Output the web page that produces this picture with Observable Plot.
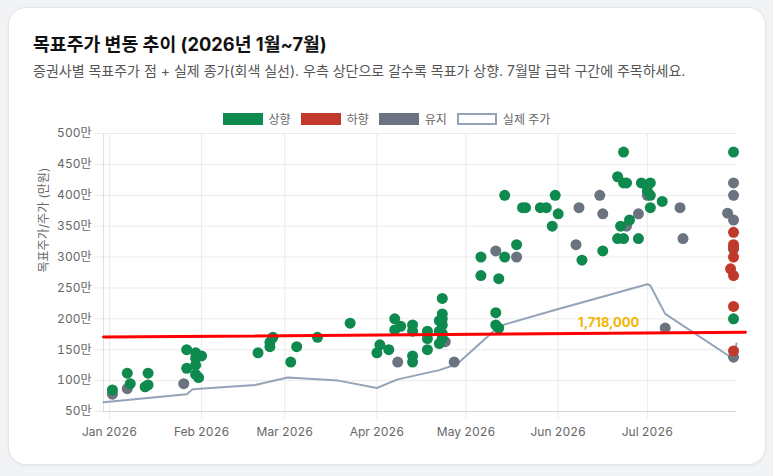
<!DOCTYPE html>
<html><head><meta charset="utf-8">
<script src="https://cdn.jsdelivr.net/npm/d3@7"></script>
<script src="https://cdn.jsdelivr.net/npm/@observablehq/plot@0.6"></script>
<style>
html,body{margin:0;padding:0;background:#f1f3f5;width:773px;height:476px;overflow:hidden;font-family:Inter,"Noto Sans CJK KR",sans-serif;}
#card{position:absolute;left:8px;top:7px;width:756px;height:456px;background:#fff;border:1px solid #e2e5e9;border-radius:18px;box-shadow:0 1px 3px rgba(0,0,0,0.05);}
#title{position:absolute;left:33px;top:30px;font-size:18.3px;font-weight:700;color:#111;white-space:nowrap;}
#subtitle{position:absolute;left:33px;top:60px;font-size:14px;color:#555;white-space:nowrap;}
#legend{position:absolute;left:0;top:110px;width:773px;display:flex;justify-content:center;align-items:center;font-size:12px;color:#666;}
.li{display:flex;align-items:center;margin:0 5px;}
.sw{width:40px;height:12px;margin-right:6px;box-sizing:border-box;}
#chart{position:absolute;left:0;top:105px;}
</style></head>
<body>
<div id="card"></div>
<div id="title">목표주가 변동 추이 (2026년 1월~7월)</div>
<div id="subtitle">증권사별 목표주가 점 + 실제 종가(회색 실선). 우측 상단으로 갈수록 목표가 상향. 7월말 급락 구간에 주목하세요.</div>
<div id="legend"></div>
<div id="chart"></div>
<script>
// ---- data (values in 만원) ----
const categories = ["상향", "하향", "유지"];
const categoryColors = ["#0f8a4f", "#c0392b", "#6b7280"];
const priceLabel = "실제 주가";

const upPoints = [
  ["01-02",85],["01-07",112],["01-08",95],["01-13",90],["01-14",93],["01-14",112],
  ["01-27",150],["01-27",120],["01-30",145],["01-30",136],["01-30",125],["01-30",110],["01-31",105],["02-01",140],
  ["02-20",145],["02-24",155],["02-24",162],["02-25",170],["03-03",130],["03-05",155],["03-12",170],["03-23",193],
  ["04-01",145],["04-02",158],["04-05",150],["04-07",200],["04-07",182],["04-09",188],
  ["04-13",190],["04-13",180],["04-13",140],["04-13",130],["04-18",150],["04-18",180],["04-18",168],
  ["04-22",180],["04-22",160],["04-22",197],["04-23",233],["04-23",208],["04-23",200],["04-23",190],["04-23",176],["04-23",168],
  ["05-06",270],["05-06",300],["05-11",210],["05-11",190],["05-12",185],["05-12",265],["05-14",300],["05-14",400],
  ["05-18",320],["05-20",380],["05-21",380],["05-26",380],["05-28",380],["05-30",350],["05-31",400],["06-01",370],
  ["06-09",295],["06-16",310],["06-21",430],["06-21",330],["06-22",350],["06-23",470],["06-23",420],["06-23",330],
  ["06-24",420],["06-25",360],["06-28",330],["06-29",420],["07-01",407],["07-02",420],["07-02",400],["07-02",380],
  ["07-06",390],["07-30",470],["07-30",200]
];
const downPoints = [
  ["07-30",340],["07-30",320],["07-30",315],["07-30",300],["07-29",281],["07-30",270],["07-30",220],["07-30",148]
];
const holdPoints = [
  ["01-02",78],["01-07",87],["01-26",95],["04-08",130],["04-24",163],["04-27",130],
  ["05-11",310],["05-18",300],["06-07",320],["06-08",380],["06-15",400],["06-16",370],["06-24",350],["06-28",370],
  ["07-01",400],["07-07",185],["07-12",380],["07-13",330],["07-28",371],
  ["07-30",420],["07-30",400],["07-30",360],["07-30",313],["07-30",138]
];

const priceDates = ["2025-12-30","2026-01-27","2026-01-29","2026-02-19","2026-03-02","2026-03-19","2026-04-01","2026-04-08","2026-04-22","2026-04-28","2026-05-08","2026-05-12","2026-05-30","2026-07-01","2026-07-02","2026-07-07","2026-07-30","2026-07-31"];
const priceValues = [65, 78, 86, 93, 105, 100, 88, 102, 117, 127, 170, 188, 213, 256, 254, 208, 135, 160];

const refLineDates = ["2025-12-30", "2026-08-03"];
const refLineValues = [170.5, 178.3];
const refLabel = "1,718,000";
const refLabelDate = "2026-06-18";
const refLabelValue = 193;

const yTicks = [50,100,150,200,250,300,350,400,450,500];
const monthTicks = ["2026-01-01","2026-02-01","2026-03-01","2026-04-01","2026-05-01","2026-06-01","2026-07-01"];
const xDomain = ["2025-12-30","2026-07-31"];
const yTitle = "목표주가/주가 (만원)";

// ---- build ----
const toDate = s => new Date(s);
const pts = (arr, cat) => arr.map(([d,v]) => ({date: new Date("2026-" + d), value: v, cat}));
const holdData = pts(holdPoints, "유지");
const upData = pts(upPoints, "상향");
const downData = pts(downPoints, "하향");
const priceData = priceDates.map((d,i) => ({date: toDate(d), value: priceValues[i]}));
const refData = refLineDates.map((d,i) => ({date: toDate(d), value: refLineValues[i]}));
const X0 = toDate(xDomain[0]), X1 = toDate(xDomain[1]);
const tickStart = d3.utcDay.offset(X0, -3);
const months = monthTicks.map(toDate);
const color = Object.fromEntries(categories.map((c,i)=>[c, categoryColors[i]]));

// legend
const lg = document.getElementById("legend");
categories.forEach((c,i) => {
  lg.insertAdjacentHTML("beforeend", `<div class="li"><div class="sw" style="background:${categoryColors[i]}"></div>${c}</div>`);
});
lg.insertAdjacentHTML("beforeend", `<div class="li"><div class="sw" style="background:#fff;border:2px solid #94a3b8"></div>${priceLabel}</div>`);

const chart = Plot.plot({
  width: 773, height: 340,
  marginTop: 28, marginBottom: 34, marginLeft: 103, marginRight: 37,
  style: {fontFamily: 'Inter, "Noto Sans CJK KR", sans-serif', fontSize: "12px", color: "#666", background: "transparent"},
  x: {type: "utc", domain: [X0, X1]},
  y: {domain: [50, 500]},
  marks: [
    Plot.ruleY(yTicks, {x1: tickStart, x2: X1, stroke: "#ebebeb"}),
    Plot.ruleX(months, {y1: 37, y2: 500, stroke: "#ebebeb"}),
    Plot.ruleX([X0], {y1: 50, y2: 500, stroke: "#e0e0e0"}),
    Plot.ruleY([50], {x1: X0, x2: X1, stroke: "#d4d4d4"}),
    Plot.axisY({ticks: yTicks, tickSize: 0, tickPadding: 12, tickFormat: d => d + "만", label: null, fill: "#666"}),
    Plot.axisX({ticks: months, tickSize: 0, tickPadding: 16, tickFormat: d3.utcFormat("%b %Y"), label: null, fill: "#666"}),
    Plot.text([yTitle], {frameAnchor: "left", rotate: -90, dx: -59, fill: "#666", fontSize: 12}),
    Plot.line(priceData, {x: "date", y: "value", stroke: "#94a3b8", strokeWidth: 2}),
    Plot.dot(holdData, {x: "date", y: "value", fill: color["유지"], r: 5.5}),
    Plot.dot(downData, {x: "date", y: "value", fill: color["하향"], r: 5.5}),
    Plot.dot(upData, {x: "date", y: "value", fill: color["상향"], r: 5.5}),
    Plot.line(refData, {x: "date", y: "value", stroke: "#ff0000", strokeWidth: 3}),
    Plot.text([refLabel], {x: () => toDate(refLabelDate), y: () => refLabelValue, fill: "#f5b400", fontWeight: 700, fontSize: 13})
  ]
});
document.getElementById("chart").appendChild(chart);
</script>
</body></html>
